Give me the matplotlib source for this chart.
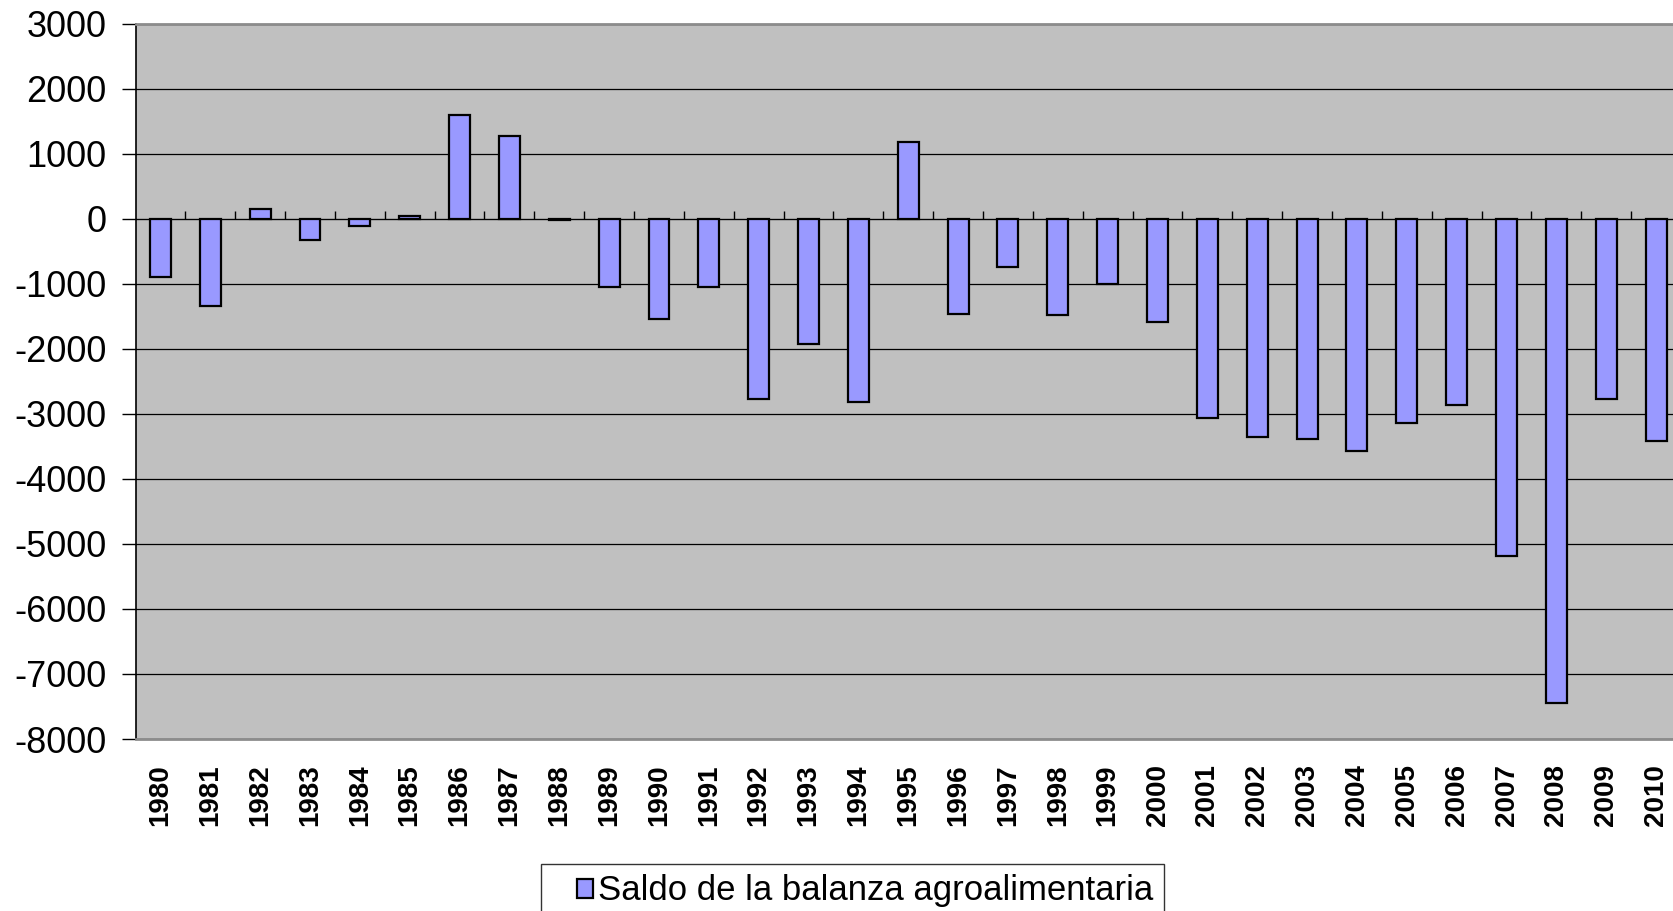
import matplotlib.pyplot as plt
import numpy as np
from matplotlib.legend_handler import HandlerPatch, update_from_first_child
from matplotlib.patches import Rectangle
from matplotlib.container import BarContainer

plt.rcParams['font.family'] = ['Liberation Sans', 'DejaVu Sans']

years = [str(y) for y in range(1980, 2011)]
saldo = [-895, -1340, 150, -325, -110, 35, 1595, 1270, -15, -1050,
         -1545, -1050, -2770, -1930, -2820, 1180, -1460, -750, -1475, -1010,
         -1588, -3063, -3350, -3387, -3566, -3138, -2865, -5180, -7440, -2770,
         -3420]
y_ticks = list(range(-8000, 3001, 1000))
serie = "Saldo de la balanza agroalimentaria"

W, H = 1673, 911
fig = plt.figure(figsize=(W / 100, H / 100), dpi=100)
left, right, top, bottom = 135.5, 1681, 23.5, 739
ax = fig.add_axes([left / W, 1 - bottom / H, (right - left) / W, (bottom - top) / H])
ax.set_facecolor('#C0C0C0')

x = np.arange(len(years))
ax.bar(x, saldo, width=0.42, color='#9999FF', edgecolor='black', linewidth=1.6,
       label=serie, zorder=3)

ymin, ymax = -8000, 3000
ax.set_ylim(ymin, ymax)
ax.set_xlim(-0.5, len(years) - 0.5)
ax.set_yticks(y_ticks)
ax.set_yticklabels([str(v) for v in y_ticks], fontsize=26)
ax.tick_params(axis='y', direction='out', length=10, width=1, color='black', pad=11)
ax.yaxis.grid(True, color='black', linewidth=0.9, zorder=1)
ax.set_axisbelow(True)

ax.set_xticks(x)
ax.set_xticklabels(years, rotation=90, fontsize=20, fontweight='bold')
ax.tick_params(axis='x', length=0, pad=18)

for s in ['top', 'bottom']:
    ax.spines[s].set_color('#8C8C8C')
    ax.spines[s].set_linewidth(2)
ax.spines['right'].set_visible(False)
ax.spines['left'].set_color('black')
ax.spines['left'].set_linewidth(1.2)

# category axis crossing at zero
zero_pos = (0 - ymin) / (ymax - ymin)
sec = ax.secondary_xaxis(zero_pos)
sec.spines['bottom'].set_color('#7F7F7F')
sec.spines['bottom'].set_linewidth(1.5)
sec.set_xticks(x[1:] - 0.5)
sec.set_xticklabels([])
sec.tick_params(axis='x', direction='out', length=6, width=1, color='black')


def square(legend, orig_handle, xdescent, ydescent, width, height, fontsize):
    w, h = 11.5, 13.5
    return Rectangle((-xdescent + width - w, -ydescent + (height - h) / 2), w, h)


leg = fig.legend(loc='upper left', bbox_to_anchor=(541 / W, 1 - 864 / H),
                 fontsize=25, frameon=True, fancybox=False, borderaxespad=0,
                 handlelength=1.2, handleheight=0.75, handletextpad=0.15,
                 borderpad=0.3, edgecolor='black',
                 handler_map={BarContainer: HandlerPatch(patch_func=square,
                                                         update_func=update_from_first_child)})
leg.get_frame().set_linewidth(1)
leg.get_frame().set_facecolor('white')

fig.savefig('out.png', dpi=100)
